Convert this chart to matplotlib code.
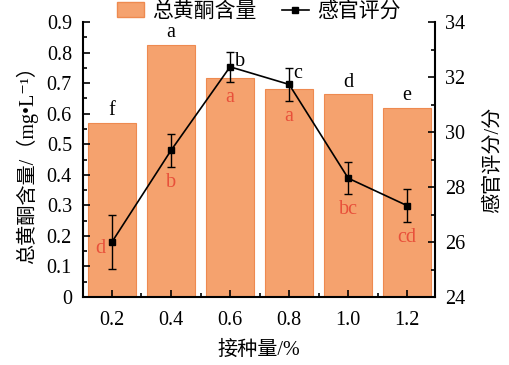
import matplotlib
matplotlib.use('Agg')
from matplotlib import pyplot as plt
from matplotlib.ticker import MultipleLocator, FixedLocator
from matplotlib.patches import Patch
from matplotlib.lines import Line2D

FAMILY = ['Liberation Serif', 'Noto Sans CJK SC', 'DejaVu Serif']
plt.rcParams['font.family'] = FAMILY

doses = ['0.2', '0.4', '0.6', '0.8', '1.0', '1.2']
flavonoids = [0.570, 0.826, 0.718, 0.680, 0.663, 0.618]
flavonoid_letters = ['f', 'a', 'b', 'c', 'd', 'e']
scores = [26.0, 29.33, 32.37, 31.73, 28.32, 27.32]
score_errors = [0.98, 0.6, 0.55, 0.6, 0.58, 0.6]
score_letters = ['d', 'b', 'a', 'a', 'bc', 'cd']

BAR_COLOR = '#F5A26E'
BAR_EDGE = '#EE8A50'
RED = '#E8503A'
TICK_SIZE = 14.5
LABEL_SIZE = 14.5

fig = plt.figure(figsize=(5.09, 3.65), dpi=100)
ax = fig.add_axes([83 / 509, 1 - 297 / 365, (435 - 83) / 509, (297 - 22) / 365])
x = list(range(len(doses)))

ax.bar(x, flavonoids, width=0.82, color=BAR_COLOR, edgecolor=BAR_EDGE, linewidth=0.8, zorder=1)
ax.set_xlim(-0.49, 5.47)
ax.set_ylim(0, 0.9)
ax.set_yticks([i / 10 for i in range(10)])
ax.set_yticklabels(['0'] + [f'{i / 10:.1f}' for i in range(1, 10)])
ax.yaxis.set_minor_locator(MultipleLocator(0.05))
ax.set_xticks(x)
ax.set_xticklabels(doses)
ax.xaxis.set_minor_locator(FixedLocator([i + 0.5 for i in range(-1, 6)]))
ax.tick_params(which='both', direction='in', labelsize=TICK_SIZE, top=False, right=False)
ax.tick_params(which='major', length=5, width=1.2)
ax.tick_params(which='minor', length=3, width=1.2)
ax.tick_params(axis='x', pad=10)
ax.tick_params(axis='y', pad=8)
for side in ['left', 'bottom']:
    ax.spines[side].set_linewidth(1.5)
ax.spines['top'].set_visible(False)
ax.spines['right'].set_visible(False)

ax.set_xlabel('接种量/%', fontsize=LABEL_SIZE, labelpad=8)
ax.set_ylabel('总黄酮含量/（mg•L⁻¹）', fontsize=LABEL_SIZE, labelpad=6)

# letters above bars
for i, (v, t) in enumerate(zip(flavonoids, flavonoid_letters)):
    if t == 'b':
        ax.text(i + 0.17, 0.772, t, ha='center', va='center', fontsize=TICK_SIZE, zorder=5)
    elif t == 'c':
        ax.text(i + 0.15, 0.730, t, ha='center', va='center', fontsize=TICK_SIZE, zorder=5)
    else:
        ax.text(i, v + 0.04, t, ha='center', va='center', fontsize=TICK_SIZE, zorder=5)

ax2 = ax.twinx()
ax2.errorbar(x, scores, yerr=score_errors, color='black', marker='s', markersize=5,
             linewidth=1.2, elinewidth=1, capsize=3, capthick=1, zorder=4)
ax2.set_ylim(24, 34)
ax2.yaxis.set_major_locator(MultipleLocator(2))
ax2.yaxis.set_minor_locator(MultipleLocator(1))
ax2.tick_params(which='both', direction='in', labelsize=TICK_SIZE, pad=7)
ax2.tick_params(which='major', length=5, width=1.2)
ax2.tick_params(which='minor', length=3, width=1.2)
ax2.spines['right'].set_linewidth(1.5)
ax2.spines['top'].set_visible(False)
ax2.spines['left'].set_visible(False)
ax2.spines['bottom'].set_visible(False)
ax2.set_ylabel('感官评分/分', fontsize=LABEL_SIZE, rotation=90, labelpad=14)

# letters below points
for i, (v, e, t) in enumerate(zip(scores, score_errors, score_letters)):
    if i == 0:
        ax2.text(i - 0.2, v - 0.25, t, ha='center', va='center', fontsize=TICK_SIZE, color=RED, zorder=5)
    else:
        ax2.text(i, v - e - 0.55, t, ha='center', va='center', fontsize=TICK_SIZE, color=RED, zorder=5)

handles = [Patch(facecolor=BAR_COLOR, edgecolor=BAR_EDGE),
           Line2D([], [], color='black', marker='s', markersize=4, linewidth=1.2)]
fig.legend(handles, ['总黄酮含量', '感官评分'], loc='center',
           bbox_to_anchor=(259 / 509, 1 - 12 / 365), bbox_transform=fig.transFigure,
           ncol=2, frameon=False, fontsize=15, handlelength=1.3, handletextpad=0.4,
           columnspacing=1.2)

fig.savefig('out.png', dpi=100)
